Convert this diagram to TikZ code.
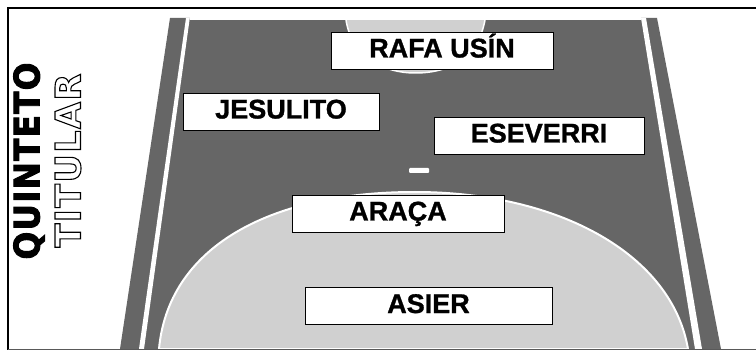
\documentclass[tikz,border=0pt]{standalone}
\usepackage{fontspec}
\setmainfont{Liberation Sans}
\newfontfamily\heavyfont[LetterSpace=4]{DejaVu Sans}
\definecolor{courtdark}{HTML}{666666}
\definecolor{areagray}{HTML}{D0D0D0}
\newcommand{\outlinetext}[1]{\special{pdf:code q 1 Tr 1.1 w}#1\special{pdf:code Q}}
\newcommand{\fattext}[1]{\special{pdf:code q 2 Tr 1.0 w}#1\special{pdf:code Q}}
\newcommand{\semifat}[1]{\special{pdf:code q 2 Tr 0.3 w}#1\special{pdf:code Q}}
\tikzset{
  player/.style={draw=black,line width=0.9pt,fill=white,inner sep=0pt,minimum height=37pt,
    text height=20pt,text depth=6pt,align=center,font=\fontsize{27}{29}\selectfont\bfseries},
  sidetext/.style={rotate=90,inner sep=0pt,font=\heavyfont\fontsize{35}{36}\selectfont\bfseries}
}
\begin{document}
\begin{tikzpicture}[x=1pt,y=-1pt]
\useasboundingbox (0,0) rectangle (756,350);
\fill[white] (0,0) rectangle (756,350);
% court
\fill[courtdark] (170,18) -- (657,18) -- (721,349) -- (120,349) -- cycle;
\fill[white] (189.5,17) -- (641,17) -- (641,20) -- (189.5,20) -- cycle;
\fill[white] (186,18) -- (189.8,18) -- (144,349) -- (139,349) -- cycle;
\fill[white] (641,18) -- (646,18) -- (702,349) -- (695,349) -- cycle;
% goal area at the top
\fill[areagray,draw=white,line width=1.5pt] (346,20) .. controls (352,58) and (385,73) .. (415,73) .. controls (450,73) and (478,58) .. (485,20);
\fill[white] (340,18.5) rectangle (490,20);
% big area
\fill[areagray,draw=white,line width=2pt] (159,349) .. controls (168,250) and (265,192) .. (415,192) .. controls (560,192) and (672,255) .. (688,349) -- cycle;
% penalty mark
\fill[white,rounded corners=1pt] (409,168) rectangle (429,173);
% frame
\draw[black,line width=2pt] (756,8) -- (7.5,8) -- (7.5,350);
\draw[black!65,line width=1pt] (7.5,349) -- (756,349);
% players
\node[player,minimum width=222pt] (rafa) at (442,50.5) {\semifat{RAFA USÍN}};
\node[player,minimum width=196pt] (jesulito) at (281,111.5) {\semifat{JESULITO}};
\node[player,minimum width=210pt] (eseverri) at (539,135.5) {\semifat{ESEVERRI}};
\node[player,minimum width=212pt] (araca) at (398,213.5) {\semifat{ARAÇA}};
\node[player,minimum width=247pt] (asier) at (428.5,306) {\semifat{ASIER}};
% side titles
\node[sidetext,xscale=0.93] (quinteto) at (29,161) {\fattext{QUINTETO}};
\node[sidetext] (titular) at (68,160.5) {\outlinetext{TITULAR}};
\end{tikzpicture}
\end{document}
